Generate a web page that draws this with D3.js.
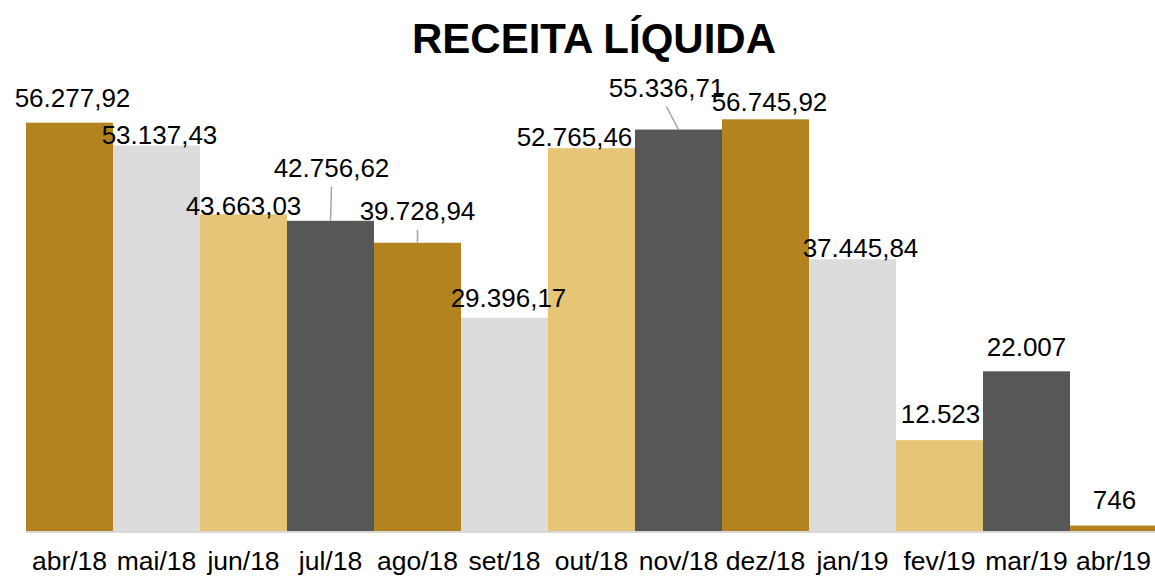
<!DOCTYPE html>
<html>
<head>
<meta charset="utf-8">
<script src="https://cdn.jsdelivr.net/npm/d3@7"></script>
<style>
  body { margin: 0; background: #fff; }
  svg { display: block; font-family: "Liberation Sans", Arial, sans-serif; }
</style>
</head>
<body>
<svg id="chart" width="1155" height="576"></svg>
<script>
// data
var months = ['abr/18', 'mai/18', 'jun/18', 'jul/18', 'ago/18', 'set/18', 'out/18',
              'nov/18', 'dez/18', 'jan/19', 'fev/19', 'mar/19', 'abr/19'];
var receita = [56277.92, 53137.43, 43663.03, 42756.62, 39728.94, 29396.17, 52765.46,
               55336.71, 56745.92, 37445.84, 12523, 22007, 746];

// colours cycle every four bars
var palette = ['#B3831F', '#DCDCDC', '#E7C576', '#575757'];

// label nudges (dx, dy) from the default spot above each bar, and which ones get a leader line
var labelShift = [[3, 1], [3, 16], [0, 18], [1, -27], [0, -6], [4, 6], [-17, 15],
                  [-12, -16], [4, 9], [8, 15], [1, 0], [0, 2], [1, 0]];
var leaders = [3, 4, 7];

var svg = d3.select('#chart');

var x = d3.scaleBand()
  .domain(months)
  .range([26, 1157])
  .padding(0);

var y = d3.scaleLinear()
  .domain([0, 60000])
  .range([531, 95.7]);

var br = d3.formatLocale({decimal: ',', thousands: '.', grouping: [3], currency: ['R$', '']});
function fmt(v) {
  return Number.isInteger(v) ? br.format(',d')(v) : br.format(',.2f')(v);
}

// title
svg.append('text')
  .attr('x', 594)
  .attr('y', 53)
  .attr('text-anchor', 'middle')
  .style('font-size', '42px')
  .style('font-weight', 'bold')
  .text('RECEITA LÍQUIDA');

// bars
svg.selectAll('.bar')
  .data(receita)
  .enter().append('rect')
  .attr('class', 'bar')
  .attr('x', function(d, i) { return x(months[i]); })
  .attr('y', function(d) { return y(d); })
  .attr('width', x.bandwidth())
  .attr('height', function(d) { return y(0) - y(d); })
  .attr('fill', function(d, i) { return palette[i % 4]; });

// baseline
svg.append('line')
  .attr('x1', 26).attr('x2', 1155)
  .attr('y1', y(0) + 1).attr('y2', y(0) + 1)
  .attr('stroke', '#D9D9D9')
  .attr('stroke-width', 2);

// x axis labels
var xAxis = svg.append('g')
  .attr('transform', 'translate(0,' + y(0) + ')')
  .call(d3.axisBottom(x).tickSize(0).tickPadding(0));
xAxis.select('.domain').remove();
xAxis.selectAll('text')
  .attr('dy', null)
  .attr('y', 39)
  .attr('fill', '#000')
  .style('font-size', '26.5px')
  .style('font-family', '"Liberation Sans", Arial, sans-serif');

function labelX(i) { return x(months[i]) + x.bandwidth() / 2 + labelShift[i][0]; }
function labelY(i) { return y(receita[i]) - 17 + labelShift[i][1]; }

// leader lines
svg.selectAll('.leader')
  .data(leaders)
  .enter().append('line')
  .attr('class', 'leader')
  .attr('x1', function(i) { return labelX(i); })
  .attr('y1', function(i) { return labelY(i) + 10; })
  .attr('x2', function(i) { return x(months[i]) + x.bandwidth() / 2; })
  .attr('y2', function(i) { return y(receita[i]); })
  .attr('stroke', '#A6A6A6')
  .attr('stroke-width', 1.5);

// data labels
svg.selectAll('.val')
  .data(receita)
  .enter().append('text')
  .attr('class', 'val')
  .attr('x', function(d, i) { return labelX(i); })
  .attr('y', function(d, i) { return labelY(i); })
  .attr('text-anchor', 'middle')
  .style('font-size', '26px')
  .text(function(d) { return fmt(d); });
</script>
</body>
</html>
